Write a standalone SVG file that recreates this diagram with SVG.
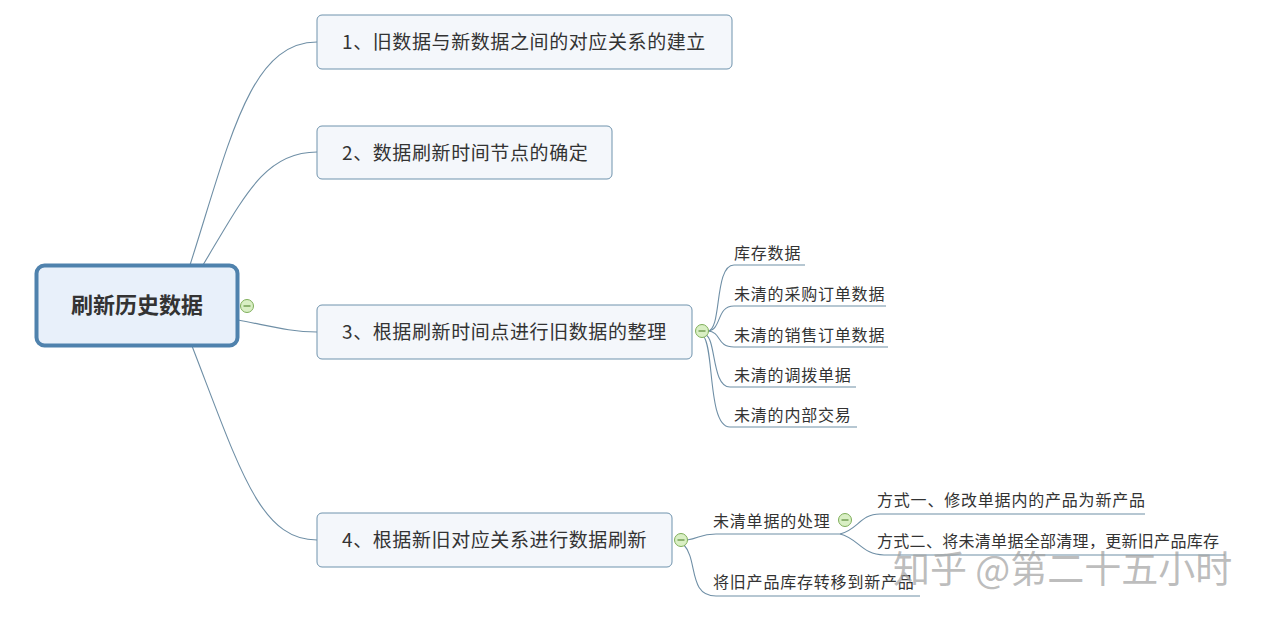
<svg xmlns="http://www.w3.org/2000/svg" width="1269" height="618" viewBox="0 0 1269 618">
<style>
text{font-family:"Noto Sans CJK SC","Noto Sans",sans-serif;fill:#333}
.node{fill:#f4f7fb;stroke:#6f93ad;stroke-width:1}
.nt{font-size:19px;letter-spacing:0.6px}
.ct{font-size:16px;letter-spacing:0.8px}
.ln{fill:none;stroke:#6f8fa6;stroke-width:1.1}
.tog{fill:#d9efc4;stroke:#7fae5a;stroke-width:1}
.togm{stroke:#5a8a3a;stroke-width:1.2}
</style>
<rect width="1269" height="618" fill="#fff"/>
<g id="connectors">
<path class="ln" d="M190,265 C230,140 250,42 317,42"/>
<path class="ln" d="M203,265 C245,195 265,152 317,152"/>
<path class="ln" d="M238,320 C270,326 290,332 317,332"/>
<path class="ln" d="M192,346 C240,470 260,540 317,540"/>
<path class="ln" d="M708,331 C722,330 714,265 734,265 L805,265"/>
<path class="ln" d="M708,331 C722,330 716,306 734,306 L886,306"/>
<path class="ln" d="M708,331 C722,332 716,347 734,347 L888,347"/>
<path class="ln" d="M706,335 C716,340 712,387 730,387 L856,387"/>
<path class="ln" d="M704,337 C714,350 708,427 730,427 L857,427"/>
<path class="ln" d="M687,540 C700,538 700,534 716,534 L840,534"/>
<path class="ln" d="M684,545 C698,560 688,596 716,596 L920,596"/>
<path class="ln" d="M840,534 C858,530 860,514 880,514 L1145,514"/>
<path class="ln" d="M840,534 C858,538 862,555 884,555 L1225,555"/>
</g>
<g id="root">
<rect x="36.5" y="265.5" width="201" height="80" rx="8" fill="#e8f0fa" stroke="#4f82ad" stroke-width="4"/>
<text x="137" y="313" text-anchor="middle" font-size="22" font-weight="bold">刷新历史数据</text>
<circle class="tog" cx="247" cy="306" r="6.5"/>
<line class="togm" x1="243.5" y1="306" x2="250.5" y2="306"/>
</g>
<g id="n1">
<rect class="node" x="317" y="15" width="415" height="54" rx="5"/>
<text class="nt" x="342" y="49">1、旧数据与新数据之间的对应关系的建立</text>
</g>
<g id="n2">
<rect class="node" x="317" y="126" width="295" height="53" rx="5"/>
<text class="nt" x="342" y="160">2、数据刷新时间节点的确定</text>
</g>
<g id="n3">
<rect class="node" x="317" y="305" width="375" height="54" rx="5"/>
<text class="nt" x="342" y="339">3、根据刷新时间点进行旧数据的整理</text>
<circle class="tog" cx="702" cy="331" r="6.5"/>
<line class="togm" x1="698.5" y1="331" x2="705.5" y2="331"/>
</g>
<g id="n3c1"><text class="ct" x="734" y="259">库存数据</text></g>
<g id="n3c2"><text class="ct" x="734" y="300">未清的采购订单数据</text></g>
<g id="n3c3"><text class="ct" x="734" y="341">未清的销售订单数据</text></g>
<g id="n3c4"><text class="ct" x="734" y="381">未清的调拨单据</text></g>
<g id="n3c5"><text class="ct" x="734" y="421">未清的内部交易</text></g>
<g id="n4">
<rect class="node" x="317" y="513" width="355" height="54" rx="5"/>
<text class="nt" x="342" y="547">4、根据新旧对应关系进行数据刷新</text>
<circle class="tog" cx="681" cy="540" r="6.5"/>
<line class="togm" x1="677.5" y1="540" x2="684.5" y2="540"/>
</g>
<g id="n4c1">
<text class="ct" x="713" y="527">未清单据的处理</text>
<circle class="tog" cx="845" cy="520" r="6.5"/>
<line class="togm" x1="841.5" y1="520" x2="848.5" y2="520"/>
</g>
<g id="n4c1a"><text class="ct" x="877" y="506">方式一、修改单据内的产品为新产品</text></g>
<g id="n4c1b"><text class="ct" x="877" y="547" style="letter-spacing:0.3px">方式二、将未清单据全部清理，更新旧产品库存</text></g>
<g id="n4c2"><text class="ct" x="713" y="588">将旧产品库存转移到新产品</text></g>
<text x="893" y="583" font-size="37" style="fill:#a0a0a0;fill-opacity:0.7">知乎 @第二十五小时</text>
</svg>
